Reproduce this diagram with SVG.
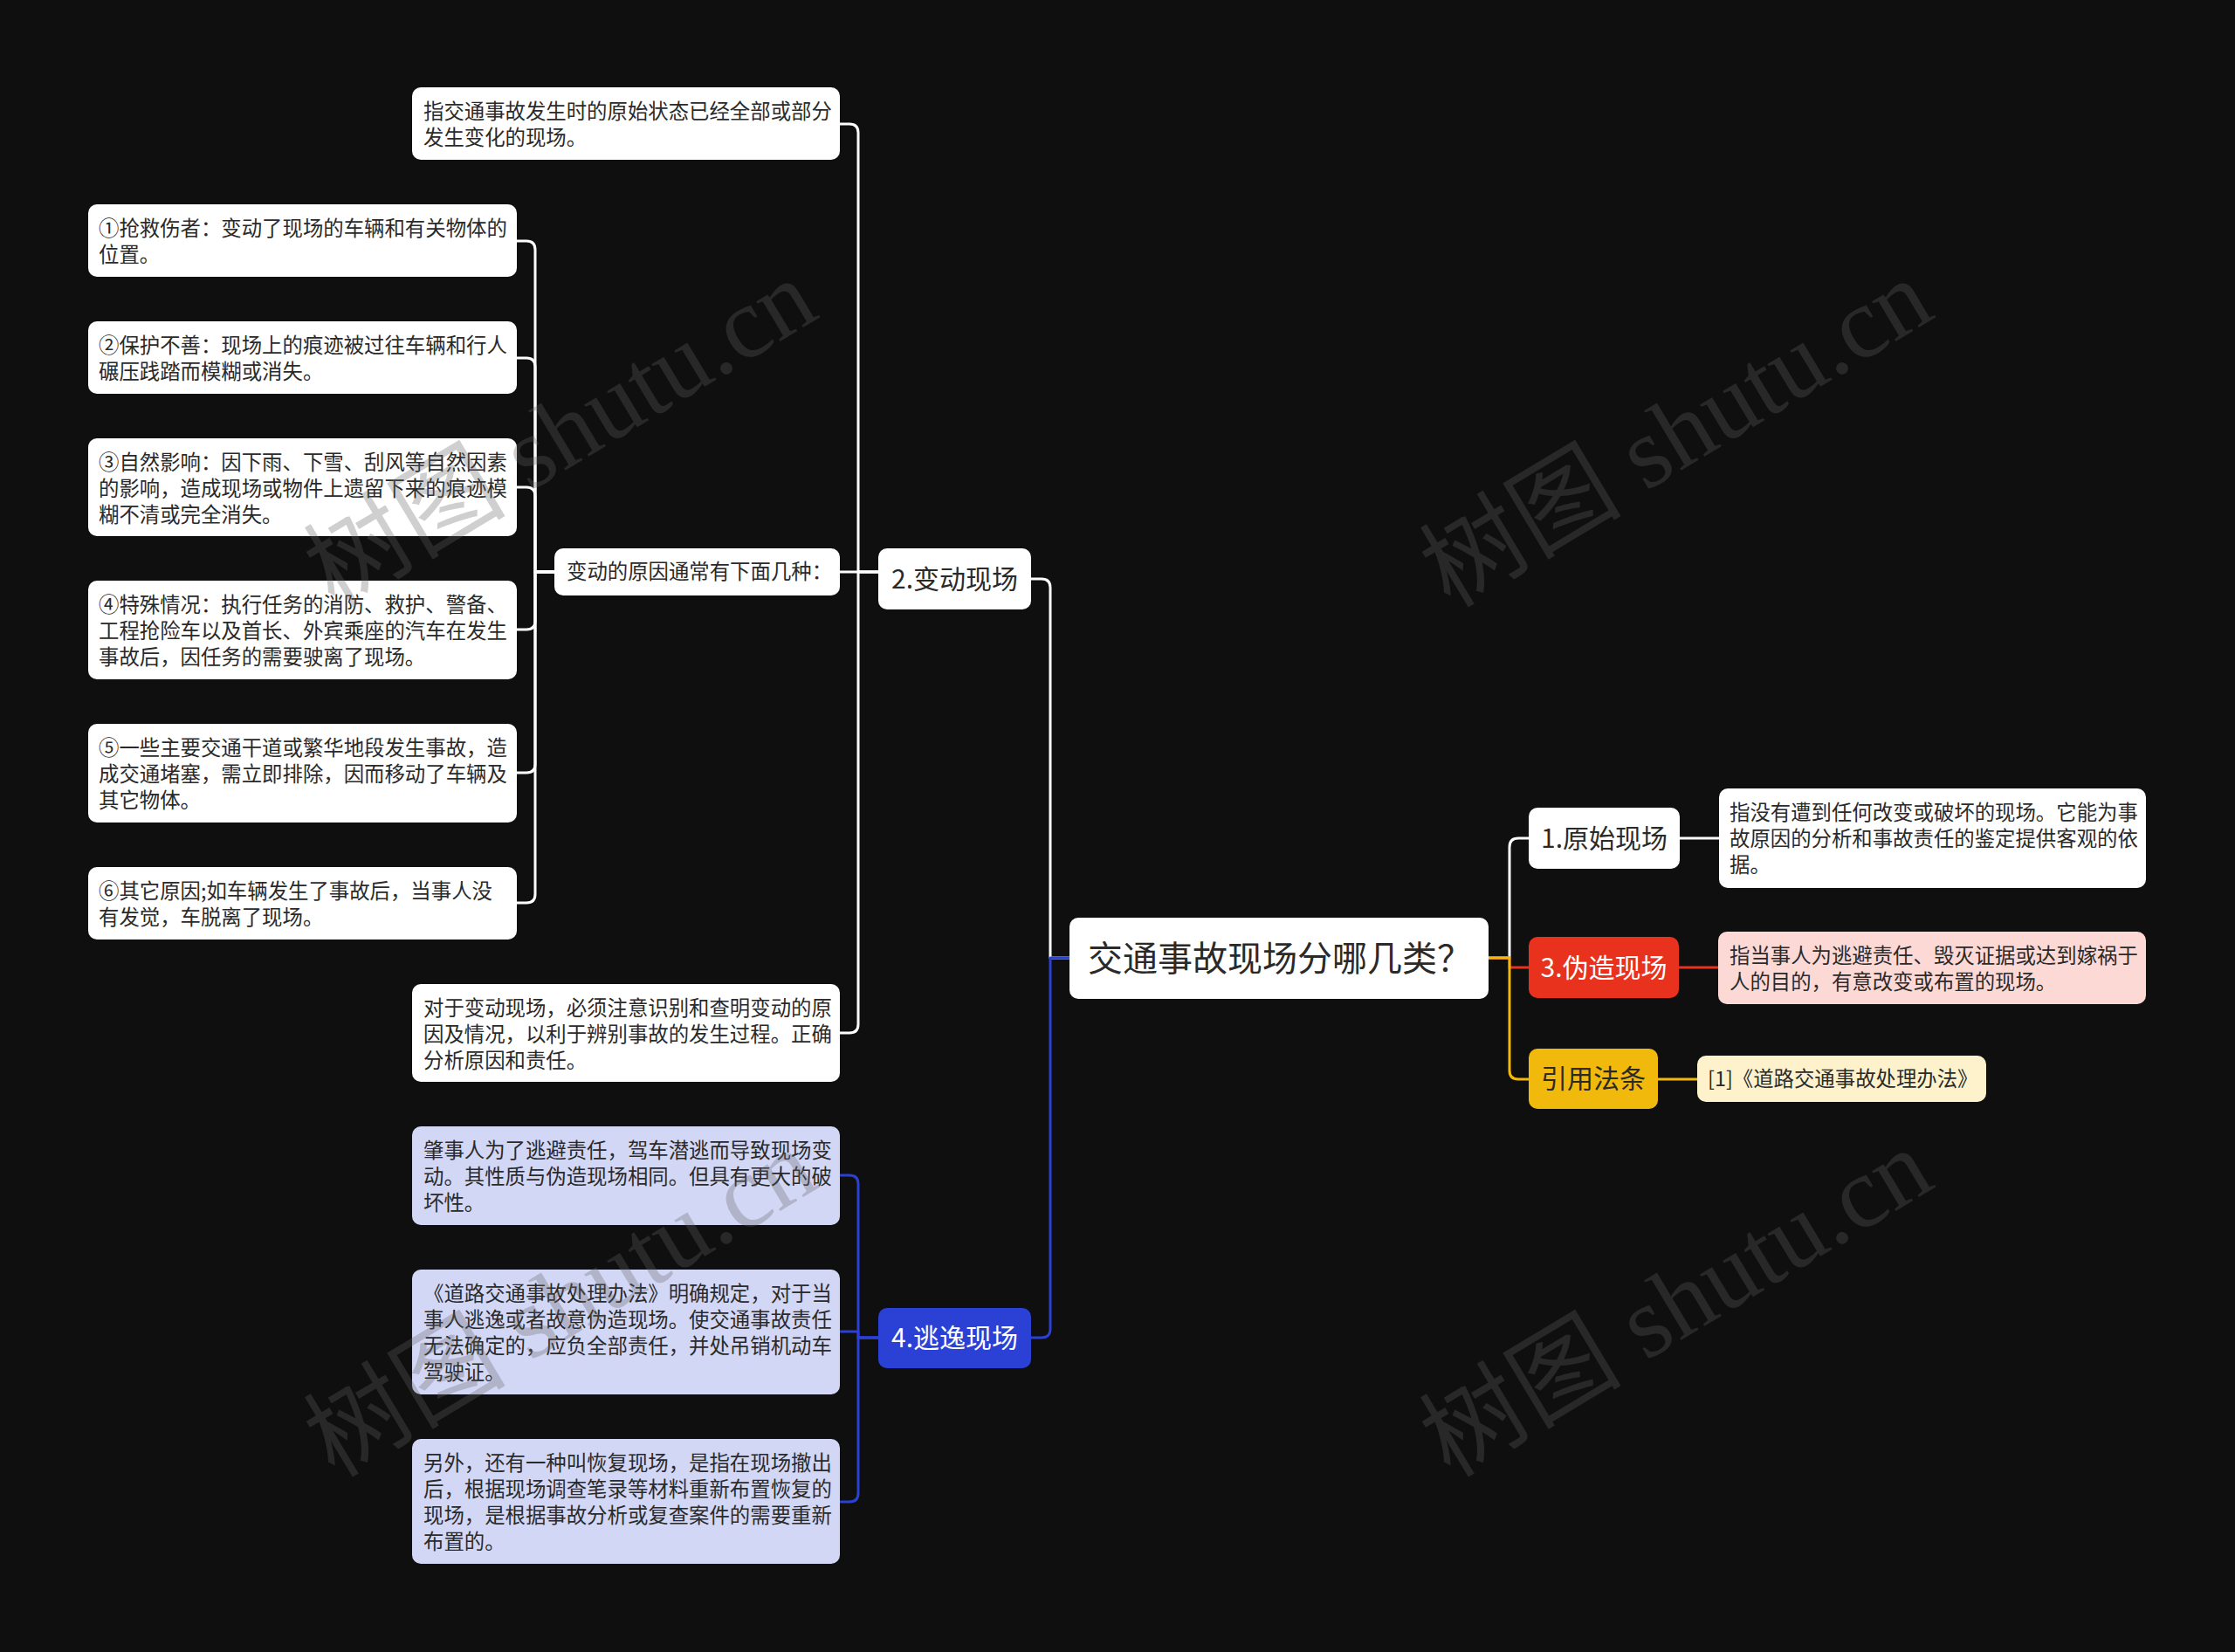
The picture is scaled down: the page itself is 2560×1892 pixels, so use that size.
<svg xmlns="http://www.w3.org/2000/svg" width="2560" height="1892" viewBox="0 0 2560 1892">
<style>
text{font-family:"Noto Sans CJK SC","Noto Sans",sans-serif;}
.t{font-size:23.4px;fill:#2a2a2a;}
.l1{font-size:30px;text-anchor:middle;}
.wbox{fill:#ffffff;}
.lav{fill:#d3d7f6;}
.c{fill:none;stroke-width:3;stroke-linecap:round;stroke-linejoin:round;}
.cw{stroke:#ffffff;}
.cb{stroke:#2b41d6;}
.cr{stroke:#e8321d;}
.cy{stroke:#f0b90c;}
.wm{font-family:"Liberation Serif","Noto Sans CJK SC",serif;font-size:116px;fill:#646464;opacity:0.3;text-anchor:middle;}
</style>
<rect width="2560" height="1892" fill="#0f0f0f"/>

<g id="connectors">
  <path class="c cw" d="M1225 1097 H1203 V673 Q1203 663 1193 663 H1181"/>
  <path class="c cb" d="M1225 1097 H1203 V1522 Q1203 1532 1193 1532 H1181"/>
  <path class="c cw" d="M1006 655 H983 V152 Q983 142 973 142 H962"/>
  <path class="c cw" d="M1006 655 H962"/>
  <path class="c cw" d="M1006 655 H983 V1173 Q983 1183 973 1183 H962"/>
  <path class="c cw" d="M635 655 H613 V286 Q613 276 603 276 H592"/>
  <path class="c cw" d="M635 655 H613 V420 Q613 410 603 410 H592"/>
  <path class="c cw" d="M635 655 H613 V568 Q613 558 603 558 H592"/>
  <path class="c cw" d="M635 655 H613 V711 Q613 721 603 721 H592"/>
  <path class="c cw" d="M635 655 H613 V875 Q613 885 603 885 H592"/>
  <path class="c cw" d="M635 655 H613 V1024 Q613 1034 603 1034 H592"/>
  <path class="c cb" d="M1006 1532 H983 V1356 Q983 1346 973 1346 H962"/>
  <path class="c cb" d="M1006 1532 H983 V1525 H962"/>
  <path class="c cb" d="M1006 1532 H983 V1710 Q983 1720 973 1720 H962"/>
  <path class="c cw" d="M1705 1097 H1729 V970 Q1729 960 1739 960 H1751"/>
  <path class="c cw" d="M1924 960 H1969"/>
  <path class="c cr" d="M1705 1097 H1729 V1108 H1751"/>
  <path class="c cr" d="M1923 1108 H1968"/>
  <path class="c cy" d="M1705 1097 H1729 V1226 Q1729 1236 1739 1236 H1751"/>
  <path class="c cy" d="M1899 1236 H1944"/>
</g>

<g id="root">
  <rect x="1225" y="1051" width="480" height="93" rx="10" class="wbox"/>
  <text x="1246" y="1112" style="font-size:40px;fill:#2a2a2a">交通事故现场分哪几类？</text>
</g>

<g id="n1">
  <rect x="1751" y="925" width="173" height="70" rx="10" class="wbox"/>
  <text x="1837.5" y="971" class="l1" fill="#2a2a2a">1.原始现场</text>
</g>
<g id="n1-leaf">
  <rect x="1969" y="903" width="489" height="114" rx="10" class="wbox"/>
  <text class="t"><tspan x="1981" y="939">指没有遭到任何改变或破坏的现场。它能为事</tspan><tspan x="1981" y="969">故原因的分析和事故责任的鉴定提供客观的依</tspan><tspan x="1981" y="999">据。</tspan></text>
</g>

<g id="n3">
  <rect x="1751" y="1073" width="172" height="70" rx="10" fill="#e8321d"/>
  <text x="1837" y="1119" class="l1" fill="#ffffff">3.伪造现场</text>
</g>
<g id="n3-leaf">
  <rect x="1968" y="1067" width="490" height="83" rx="10" fill="#fdd9d6"/>
  <text class="t"><tspan x="1981" y="1103">指当事人为逃避责任、毁灭证据或达到嫁祸于</tspan><tspan x="1981" y="1133">人的目的，有意改变或布置的现场。</tspan></text>
</g>

<g id="ref">
  <rect x="1751" y="1201" width="148" height="69" rx="10" fill="#f0b90c"/>
  <text x="1825" y="1246" class="l1" fill="#2a2a2a">引用法条</text>
</g>
<g id="ref-leaf">
  <rect x="1944" y="1209" width="331" height="53" rx="10" fill="#fdf2cc"/>
  <text x="1956" y="1244" class="t">[1]《道路交通事故处理办法》</text>
</g>

<g id="n2">
  <rect x="1006" y="628" width="175" height="70" rx="10" class="wbox"/>
  <text x="1093.5" y="674" class="l1" fill="#2a2a2a">2.变动现场</text>
</g>
<g id="n2-a">
  <rect x="472" y="100" width="490" height="83" rx="10" class="wbox"/>
  <text class="t"><tspan x="485" y="136">指交通事故发生时的原始状态已经全部或部分</tspan><tspan x="485" y="166">发生变化的现场。</tspan></text>
</g>
<g id="n2-b">
  <rect x="635" y="628" width="327" height="54" rx="10" class="wbox"/>
  <text x="649" y="663" class="t">变动的原因通常有下面几种：</text>
</g>
<g id="n2-b1">
  <rect x="101" y="234" width="491" height="83" rx="10" class="wbox"/>
  <text class="t"><tspan x="113" y="270">①抢救伤者：变动了现场的车辆和有关物体的</tspan><tspan x="113" y="300">位置。</tspan></text>
</g>
<g id="n2-b2">
  <rect x="101" y="368" width="491" height="83" rx="10" class="wbox"/>
  <text class="t"><tspan x="113" y="404">②保护不善：现场上的痕迹被过往车辆和行人</tspan><tspan x="113" y="434">碾压践踏而模糊或消失。</tspan></text>
</g>
<g id="n2-b3">
  <rect x="101" y="502" width="491" height="112" rx="10" class="wbox"/>
  <text class="t"><tspan x="113" y="538">③自然影响：因下雨、下雪、刮风等自然因素</tspan><tspan x="113" y="568">的影响，造成现场或物件上遗留下来的痕迹模</tspan><tspan x="113" y="598">糊不清或完全消失。</tspan></text>
</g>
<g id="n2-b4">
  <rect x="101" y="665" width="491" height="113" rx="10" class="wbox"/>
  <text class="t"><tspan x="113" y="701">④特殊情况：执行任务的消防、救护、警备、</tspan><tspan x="113" y="731">工程抢险车以及首长、外宾乘座的汽车在发生</tspan><tspan x="113" y="761">事故后，因任务的需要驶离了现场。</tspan></text>
</g>
<g id="n2-b5">
  <rect x="101" y="829" width="491" height="113" rx="10" class="wbox"/>
  <text class="t"><tspan x="113" y="865">⑤一些主要交通干道或繁华地段发生事故，造</tspan><tspan x="113" y="895">成交通堵塞，需立即排除，因而移动了车辆及</tspan><tspan x="113" y="925">其它物体。</tspan></text>
</g>
<g id="n2-b6">
  <rect x="101" y="993" width="491" height="83" rx="10" class="wbox"/>
  <text class="t"><tspan x="113" y="1029">⑥其它原因;如车辆发生了事故后，当事人没</tspan><tspan x="113" y="1059">有发觉，车脱离了现场。</tspan></text>
</g>
<g id="n2-c">
  <rect x="472" y="1127" width="490" height="112" rx="10" class="wbox"/>
  <text class="t"><tspan x="485" y="1163">对于变动现场，必须注意识别和查明变动的原</tspan><tspan x="485" y="1193">因及情况，以利于辨别事故的发生过程。正确</tspan><tspan x="485" y="1223">分析原因和责任。</tspan></text>
</g>

<g id="n4">
  <rect x="1006" y="1498" width="175" height="69" rx="10" fill="#2b41d6"/>
  <text x="1093.5" y="1543" class="l1" fill="#ffffff">4.逃逸现场</text>
</g>
<g id="n4-a">
  <rect x="472" y="1290" width="490" height="113" rx="10" class="lav"/>
  <text class="t"><tspan x="485" y="1326">肇事人为了逃避责任，驾车潜逃而导致现场变</tspan><tspan x="485" y="1356">动。其性质与伪造现场相同。但具有更大的破</tspan><tspan x="485" y="1386">坏性。</tspan></text>
</g>
<g id="n4-b">
  <rect x="472" y="1454" width="490" height="143" rx="10" class="lav"/>
  <text class="t"><tspan x="485" y="1490">《道路交通事故处理办法》明确规定，对于当</tspan><tspan x="485" y="1520">事人逃逸或者故意伪造现场。使交通事故责任</tspan><tspan x="485" y="1550">无法确定的，应负全部责任，并处吊销机动车</tspan><tspan x="485" y="1580">驾驶证。</tspan></text>
</g>
<g id="n4-c">
  <rect x="472" y="1648" width="490" height="143" rx="10" class="lav"/>
  <text class="t"><tspan x="485" y="1684">另外，还有一种叫恢复现场，是指在现场撤出</tspan><tspan x="485" y="1714">后，根据现场调查笔录等材料重新布置恢复的</tspan><tspan x="485" y="1744">现场，是根据事故分析或复查案件的需要重新</tspan><tspan x="485" y="1774">布置的。</tspan></text>
</g>

<g id="watermark">
  <text class="wm" transform="translate(662 530) rotate(-31)">树图 shutu.cn</text>
  <text class="wm" transform="translate(1940 530) rotate(-31)">树图 shutu.cn</text>
  <text class="wm" transform="translate(662 1526) rotate(-31)">树图 shutu.cn</text>
  <text class="wm" transform="translate(1940 1526) rotate(-31)">树图 shutu.cn</text>
</g>
</svg>
